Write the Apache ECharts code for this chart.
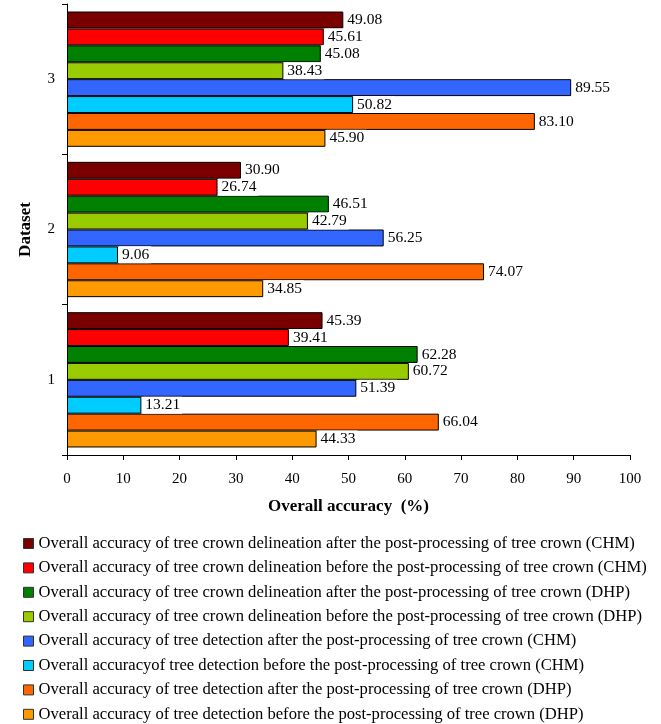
<!DOCTYPE html>
<html>
<head>
<meta charset="utf-8">
<script src="https://cdn.jsdelivr.net/npm/echarts@6/dist/echarts.min.js"></script>
<style>
  html, body { margin: 0; padding: 0; background: #fff; }
  #chart { width: 661px; height: 724px; }
</style>
</head>
<body>
<div id="chart"></div>
<script>
// datasets on the y axis (1 at the bottom)
const datasets = ['1', '2', '3'];
const xTicks = [0, 10, 20, 30, 40, 50, 60, 70, 80, 90, 100];

const seriesNames = [
    'Overall accuracy of tree crown delineation after the post-processing of tree crown (CHM)',
    'Overall accuracy of tree crown delineation before the post-processing of tree crown (CHM)',
    'Overall accuracy of tree crown delineation after the post-processing of tree crown (DHP)',
    'Overall accuracy of tree crown delineation before the post-processing of tree crown (DHP)',
    'Overall accuracy of tree detection after the post-processing of tree crown (CHM)',
    'Overall accuracyof tree detection before the post-processing of tree crown (CHM)',
    'Overall accuracy of tree detection after the post-processing of tree crown (DHP)',
    'Overall accuracy of tree detection before the post-processing of tree crown (DHP)'
];
const seriesColors = ['#7a0000', '#ff0000', '#008000', '#99cc00', '#3366ff', '#00ccff', '#ff6600', '#ff9900'];

// values per dataset 1, 2, 3
const delinAfterCHM = [45.39, 30.90, 49.08];
const delinBeforeCHM = [39.41, 26.74, 45.61];
const delinAfterDHP = [62.28, 46.51, 45.08];
const delinBeforeDHP = [60.72, 42.79, 38.43];
const detAfterCHM = [51.39, 56.25, 89.55];
const detBeforeCHM = [13.21, 9.06, 50.82];
const detAfterDHP = [66.04, 74.07, 83.10];
const detBeforeDHP = [44.33, 34.85, 45.90];

const values = [delinAfterCHM, delinBeforeCHM, delinAfterDHP, delinBeforeDHP,
                detAfterCHM, detBeforeCHM, detAfterDHP, detBeforeDHP];

const font = '"Liberation Serif", "Times New Roman", serif';

let myChart = echarts.init(document.getElementById('chart'));

myChart.setOption({
    animation: false,
    textStyle: {fontFamily: font, color: '#000'},
    legend: {
        orient: 'vertical',
        left: 23,
        top: 535,
        height: 220,
        padding: 0,
        itemWidth: 10,
        itemHeight: 10,
        itemGap: 7.4,
        icon: 'rect',
        data: seriesNames,
        itemStyle: {borderColor: '#333', borderWidth: 1},
        textStyle: {fontFamily: font, fontSize: 16.6, color: '#000', lineHeight: 16}
    },
    grid: {
        left: 67,
        right: 31,
        top: 4,
        bottom: 269,
        containLabel: false
    },
    xAxis: {
        type: 'value',
        min: xTicks[0],
        max: xTicks[xTicks.length - 1],
        interval: 10,
        name: 'Overall accuracy  (%)',
        nameLocation: 'middle',
        nameGap: 43,
        nameTextStyle: {fontFamily: font, fontSize: 17, fontWeight: 'bold', color: '#000'},
        axisLine: {show: true, lineStyle: {color: '#000', width: 1}},
        axisTick: {show: true, length: 5, lineStyle: {color: '#000'}},
        axisLabel: {fontFamily: font, fontSize: 15, color: '#000', margin: 17},
        splitLine: {show: false}
    },
    yAxis: {
        type: 'category',
        data: datasets,
        name: 'Dataset',
        nameLocation: 'middle',
        nameGap: 33,
        nameTextStyle: {fontFamily: font, fontSize: 17, fontWeight: 'bold', color: '#000'},
        axisLine: {show: true, lineStyle: {color: '#000', width: 1}},
        axisTick: {show: true, length: 5, lineStyle: {color: '#000'}},
        axisLabel: {fontFamily: font, fontSize: 15, color: '#000', margin: 12},
        splitLine: {show: false}
    },
    series: seriesNames.map((name, i) => ({
        name: name,
        type: 'bar',
        data: values[i],
        barGap: '0%',
        barCategoryGap: '10%',
        itemStyle: {color: seriesColors[i], borderColor: '#000', borderWidth: 1},
        label: {
            show: true,
            position: 'right',
            distance: 1,
            fontFamily: font,
            fontSize: 15.5,
            color: '#000',
            backgroundColor: '#fff',
            padding: [1, 2, 0, 3],
            formatter: p => p.value.toFixed(2)
        }
    }))
});
</script>
</body>
</html>
